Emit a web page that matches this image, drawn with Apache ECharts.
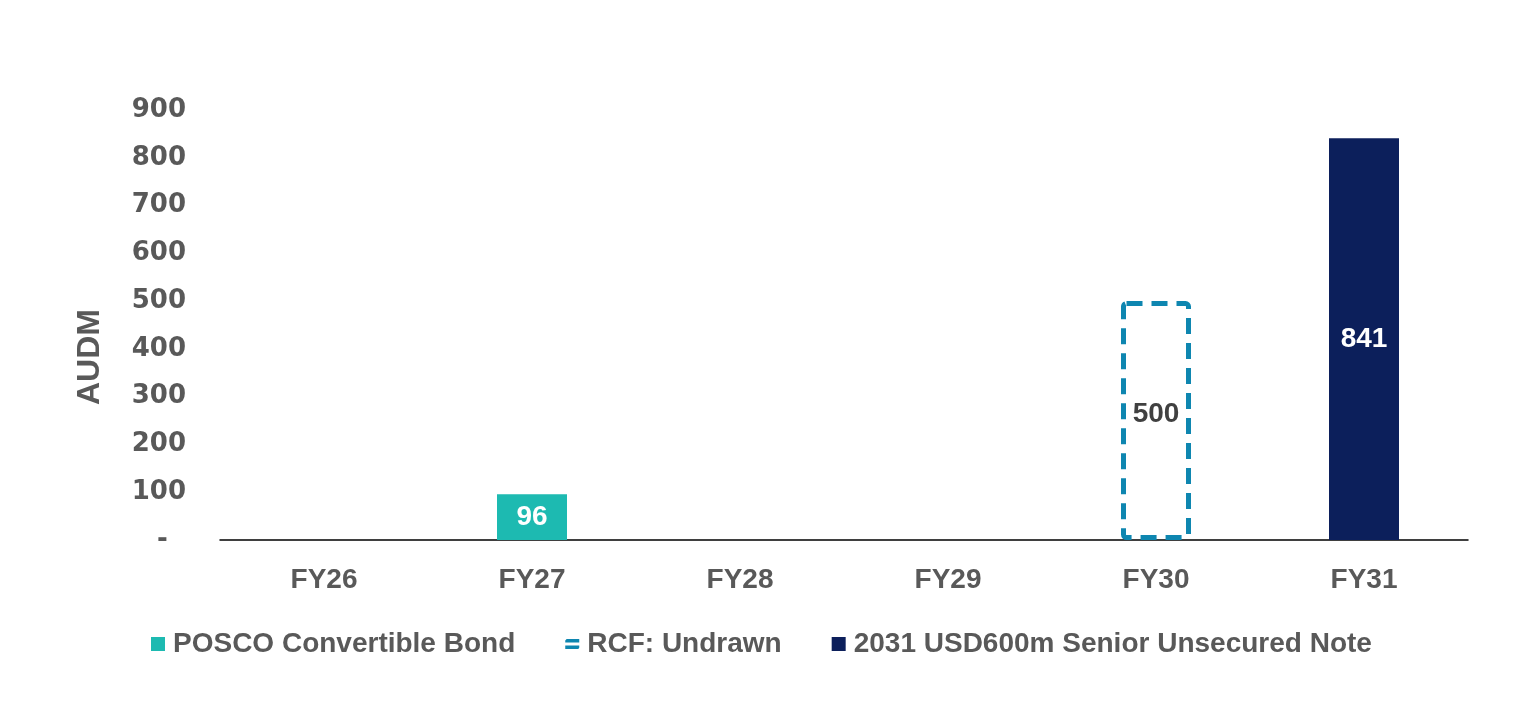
<!DOCTYPE html>
<html>
<head>
<meta charset="utf-8" />
<title></title>
<style>
  html, body { margin: 0; padding: 0; background: #fff; }
  #main { width: 1536px; height: 709px; }
</style>
</head>
<body>
<div id="main"></div>
<script src="https://cdn.jsdelivr.net/npm/echarts@6/dist/echarts.min.js"></script>
<script>
    var categories = ['FY26', 'FY27', 'FY28', 'FY29', 'FY30', 'FY31'];
    var poscoBond = [null, 96, null, null, null, null];
    var rcfUndrawn = [null, null, null, null, 500, null];
    var seniorNote = [null, null, null, null, null, 841];

    var fontFam = '"Liberation Sans", Arial, sans-serif';
    var numFam = '"DejaVu Sans", sans-serif';
    var grey = '#595959';

    var chart = echarts.init(document.getElementById('main'));
    var option = {
        animation: false,
        grid: { left: 220, right: 68, top: 110, bottom: 169 },
        legend: {
            left: 146,
            top: 625,
            itemWidth: 14,
            itemHeight: 14,
            itemGap: 50,
            textStyle: { color: grey, fontSize: 28, fontWeight: 'bold', fontFamily: fontFam, padding: [0, 0, 0, 3] },
            data: [
                { name: 'POSCO Convertible Bond', icon: 'rect' },
                { name: 'RCF: Undrawn', icon: 'path://M2,0 H20 V5 H0 V2 Z M0,9 H20 V12 A2,2 0 0 1 18,14 H0 Z', itemStyle: { color: '#0E86B0', borderWidth: 0 } },
                { name: '2031 USD600m Senior Unsecured Note', icon: 'rect' }
            ]
        },
        xAxis: {
            type: 'category',
            data: categories,
            axisLine: { lineStyle: { color: '#000', width: 1.5 } },
            axisTick: { show: false },
            axisLabel: { color: grey, fontSize: 28, fontWeight: 'bold', fontFamily: fontFam, margin: 26 }
        },
        yAxis: {
            type: 'value',
            min: 0,
            max: 900,
            interval: 100,
            name: 'AUDM',
            nameLocation: 'middle',
            nameGap: 114,
            nameTextStyle: { color: grey, fontSize: 32, fontWeight: 'bold', fontFamily: fontFam, padding: [0, 64, 0, 0] },
            splitLine: { show: false },
            axisLine: { show: false },
            axisTick: { show: false },
            axisLabel: {
                color: grey, fontSize: 26, fontWeight: 'bold', fontFamily: numFam, margin: 34,
                formatter: function (v) { return v === 0 ? '-  ' : v; }
            }
        },
        series: [
            {
                name: 'POSCO Convertible Bond',
                type: 'bar',
                stack: 'debt',
                barWidth: 70,
                data: poscoBond,
                itemStyle: { color: '#1DBAB1' },
                label: { show: true, position: 'inside', color: '#fff', fontSize: 28, fontWeight: 'bold', fontFamily: fontFam }
            },
            {
                name: 'RCF: Undrawn',
                type: 'bar',
                stack: 'debt',
                barWidth: 70,
                data: rcfUndrawn,
                itemStyle: {
                    color: 'rgba(0,0,0,0)',
                    borderColor: '#0E86B0',
                    borderWidth: 5,
                    borderType: [16, 9],
                    borderRadius: 3
                },
                label: { show: true, position: 'inside', offset: [0, -6], color: '#404040', fontSize: 28, fontWeight: 'bold', fontFamily: fontFam }
            },
            {
                name: '2031 USD600m Senior Unsecured Note',
                type: 'bar',
                stack: 'debt',
                barWidth: 70,
                data: seniorNote,
                itemStyle: { color: '#0C1F5B' },
                label: { show: true, position: 'inside', color: '#fff', fontSize: 28, fontWeight: 'bold', fontFamily: fontFam }
            }
        ]
    };
    chart.setOption(option);
</script>
</body>
</html>
